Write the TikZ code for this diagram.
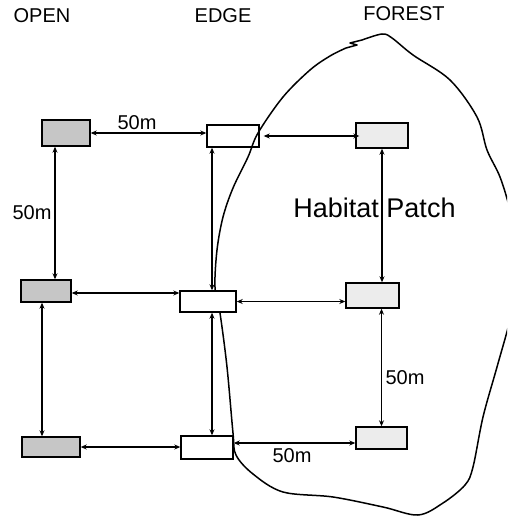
\documentclass[tikz,border=0pt]{standalone}
\usepackage{fontspec}
\setmainfont{Liberation Sans}
\usetikzlibrary{arrows.meta}
\begin{document}
\begin{tikzpicture}[x=1pt,y=-1pt,
  box/.style={draw=black,line width=1.4pt,inner sep=0pt},
  openbox/.style={box,fill=gray!45},
  edgebox/.style={box,fill=white},
  clearbox/.style={box},
  forestbox/.style={box,fill=gray!15},
  link/.style={line width=1.1pt,{Stealth[length=6pt,width=5pt]}-{Stealth[length=6pt,width=5pt]}},
  head/.style={font=\fontsize{20}{22}\selectfont},
  dist/.style={font=\fontsize{20}{22}\selectfont,inner sep=0pt},
  boundary/.style={line width=1.5pt}]
\useasboundingbox (0,0) rectangle (507,516);
\fill[white] (0,0) rectangle (507,516);
% forest boundary
\begin{scope}
\clip (0,0) rectangle (507,516);
\draw[boundary,line join=round] plot[smooth,tension=0.55] coordinates {
 (362,40) (382,34) (392,38) (413,55) (450,80) (477,117) (487,150) (500,177)
 (510,210) (522,265) (510,320) (497,367) (483,417) (473,467) (465,485)
 (443,503) (418,515) (383,507) (333,497) (283,492) (253,474) (236,455)
 (233,433) (227,367) (220,313) (215,287) (217,250) (223,217) (233,188)
 (248,157) (258,133) (283,97) (310,70) (330,56) (346,48)}
 -- (357,45) -- (350,43) -- cycle;
\end{scope}
% headers
\node[head] (hopen) at (42,16) {OPEN};
\node[head] (hedge) at (223,16) {EDGE};
\node[head] (hforest) at (404,14) {FOREST};
% boxes
\node[openbox,minimum width=48pt,minimum height=26pt] (OT) at (66,133) {};
\node[openbox,minimum width=50pt,minimum height=22pt] (OM) at (46,291) {};
\node[openbox,minimum width=58pt,minimum height=20pt] (OB) at (51,447) {};
\node[clearbox,minimum width=52pt,minimum height=22pt] (ET) at (233,136) {};
\node[edgebox,minimum width=56pt,minimum height=21pt] (EM) at (208,301.5) {};
\node[edgebox,minimum width=52pt,minimum height=23pt] (EB) at (207,447.5) {};
\node[forestbox,minimum width=52pt,minimum height=25pt] (FT) at (382,135.5) {};
\node[forestbox,minimum width=53pt,minimum height=25pt] (FM) at (372.5,295.5) {};
\node[forestbox,minimum width=51pt,minimum height=22pt] (FB) at (381.5,438) {};
% connectors
\draw[link] (OT.east) -- (OT.east -| ET.west);
\draw[link] ([xshift=4pt]ET.east) -- ([xshift=4pt]ET.east -| FT.west);
\draw[link] ([xshift=-11pt]OT.south) -- ([xshift=-11pt]OT.south |- OM.north);
\draw[link] ([xshift=-21pt]ET.south) -- ([xshift=-21pt]ET.south |- EM.north);
\draw[link] (FT.south) -- (FT.south |- FM.north);
\draw[link] ([yshift=-2pt]OM.east) -- ([yshift=-2pt]OM.east -| EM.west);
\draw[link] (EM.east) -- (EM.east -| FM.west);
\draw[link] ([xshift=-4pt]OM.south) -- ([xshift=-4pt]OM.south |- OB.north);
\draw[link] ([xshift=4pt]EM.south) -- ([xshift=4pt]EM.south |- EB.north);
\draw[link] (FB.north) -- (FB.north |- FM.south);
\draw[link] (OB.east) -- (OB.east -| EB.west);
\draw[link] ([yshift=-5pt]FB.west) -- ([yshift=-5pt]FB.west -| EB.east);
% labels
\node[dist] (d1) at (137,123) {50m};
\node[dist] (d2) at (32,213) {50m};
\node[dist] (d3) at (405,378) {50m};
\node[dist] (d4) at (292,456) {50m};
\node[font=\fontsize{27}{30}\selectfont,inner sep=0pt] (hp) at (374.5,208) {Habitat Patch};
\end{tikzpicture}
\end{document}
